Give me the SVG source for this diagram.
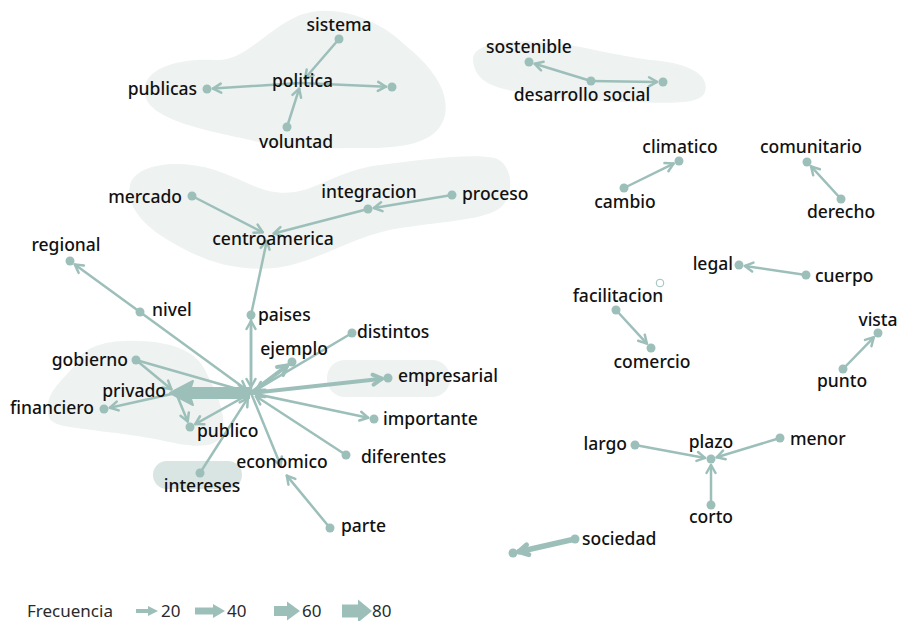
<svg xmlns="http://www.w3.org/2000/svg" width="901" height="621" viewBox="0 0 901 621">
<style>
.bg{fill:#ffffff}
.hull{fill:#eef2f0}
.hull2{fill:#d9e5e2}
.e{fill:none;stroke:#9dbfba;stroke-width:2.5;stroke-linecap:round;marker-end:url(#ah)}
.e4{fill:none;stroke:#9dbfba;stroke-width:4;stroke-linecap:round;marker-end:url(#ah4)}
.e5{fill:none;stroke:#9dbfba;stroke-width:5.5;stroke-linecap:round;marker-end:url(#ah5)}
.n{fill:#9dbfba}
.t{font-family:"Noto Sans","Liberation Sans",sans-serif;font-size:17.5px;font-weight:500;fill:#111111}
.m{text-anchor:middle}
.s{text-anchor:start}
.en{text-anchor:end}
.lg{font-family:"Noto Sans","Liberation Sans",sans-serif;font-size:17px;fill:#2a2a2a}
.la{fill:#9dbfba}
</style>
<defs>
<marker id="ah" markerUnits="userSpaceOnUse" markerWidth="14" markerHeight="14" refX="10" refY="6" orient="auto" overflow="visible">
<path d="M2,1.5 L10,6 L2,10.5" fill="none" stroke="#9dbfba" stroke-width="2.5" stroke-linecap="round" stroke-linejoin="round"/>
</marker>
<marker id="ah4" markerUnits="userSpaceOnUse" markerWidth="16" markerHeight="16" refX="11" refY="7" orient="auto" overflow="visible">
<path d="M2,2 L11,7 L2,12" fill="none" stroke="#9dbfba" stroke-width="4" stroke-linecap="round" stroke-linejoin="round"/>
</marker>
<marker id="ah5" markerUnits="userSpaceOnUse" markerWidth="16" markerHeight="16" refX="11" refY="7" orient="auto" overflow="visible">
<path d="M2,2 L11,7 L2,12" fill="none" stroke="#9dbfba" stroke-width="5" stroke-linecap="round" stroke-linejoin="round"/>
</marker>
</defs>
<rect class="bg" x="0" y="0" width="901" height="621"/>
<g id="hulls">
<path class="hull" d="M145,95 C140,70 175,58 215,60 C245,62 265,30 300,15 C335,2 380,20 405,45 C430,65 450,90 445,115 C440,140 410,148 370,148 C330,148 290,150 250,140 C205,130 150,120 145,95 Z"/>
<path class="hull" d="M473,60 C472,45 500,40 540,42 C580,44 610,55 650,60 C690,63 710,75 705,92 C700,105 670,103 630,102 C590,101 540,98 500,88 C480,82 474,72 473,60 Z"/>
<path class="hull" d="M130,185 C135,165 175,158 215,170 C250,182 265,196 295,192 C320,188 340,170 380,165 C420,160 470,153 495,158 C515,165 515,200 497,210 C480,220 440,222 400,228 C350,236 320,262 275,268 C230,272 195,258 160,235 C135,218 127,200 130,185 Z"/>
<path class="hull" d="M48,410 C45,390 70,375 78,360 C88,343 115,340 140,341 C170,342 195,350 205,370 C215,390 228,415 222,435 C215,450 190,447 160,440 C120,432 80,430 60,425 C50,422 48,418 48,410 Z"/>
<rect class="hull2" x="153" y="461" width="89" height="28" rx="14"/>
<rect class="hull" x="327" y="360" width="123" height="37" rx="18"/>
</g>
<g id="connectors">
<line class="e" x1="339" y1="39" x2="304.9" y2="78.5"/>
<line class="e" x1="287" y1="127" x2="299.2" y2="88.7"/>
<line class="e" x1="301" y1="83" x2="213" y2="88.6"/>
<line class="e" x1="301" y1="83" x2="386" y2="86.7"/>
<line class="e" x1="591" y1="81" x2="534.7" y2="63.8"/>
<line class="e" x1="591" y1="81" x2="657" y2="81.9"/>
<line class="e" x1="624" y1="188" x2="673.6" y2="163.6"/>
<line class="e" x1="841" y1="199" x2="811.1" y2="166.4"/>
<line class="e" x1="806" y1="275" x2="744.9" y2="265.9"/>
<line class="e" x1="616" y1="310" x2="646.9" y2="343.6"/>
<line class="e" x1="843" y1="369" x2="873.8" y2="337.3"/>
<line class="e" x1="635" y1="445" x2="705.1" y2="457.9"/>
<line class="e" x1="780" y1="438" x2="716.7" y2="457.3"/>
<line class="e" x1="711" y1="505" x2="711" y2="465"/>
<line class="e5" x1="575" y1="539" x2="518.9" y2="551.7"/>
<line class="e" x1="192" y1="196" x2="262.7" y2="232.3"/>
<line class="e" x1="452" y1="195" x2="373.9" y2="208"/>
<line class="e" x1="368" y1="209" x2="273.8" y2="233.5"/>
<line class="e" x1="251" y1="315" x2="266.8" y2="240.9"/>
<line class="e" x1="140" y1="312" x2="74.8" y2="264.5"/>
<line class="e" x1="251" y1="393" x2="251" y2="321"/>
<line class="e" x1="251" y1="315" x2="251" y2="387"/>
<line class="e" x1="140" y1="312" x2="246.2" y2="389.5"/>
<line class="e" x1="136" y1="360" x2="245.2" y2="391.3"/>
<line class="e" x1="136" y1="360" x2="171.4" y2="389.2"/>
<line class="e" x1="176" y1="393" x2="109.9" y2="407.7"/>
<line class="e" x1="176" y1="393" x2="187.7" y2="421.5"/>
<line class="e" x1="251" y1="393" x2="195.2" y2="424.1"/>
<line class="e" x1="200" y1="473" x2="247.8" y2="398.1"/>
<line class="e4" x1="251" y1="393" x2="287.2" y2="365.6"/>
<line class="e" x1="352" y1="333" x2="256.2" y2="389.9"/>
<line class="e4" x1="251" y1="393" x2="382" y2="378.7"/>
<line class="e" x1="251" y1="393" x2="368.1" y2="417.8"/>
<line class="e" x1="346" y1="455" x2="256" y2="396.3"/>
<line class="e" x1="251" y1="393" x2="280.7" y2="465.5"/>
<line class="e" x1="330" y1="528" x2="286.8" y2="475.6"/>
<line x1="250" y1="393" x2="190" y2="393" stroke="#9dbfba" stroke-width="12"/>
<polygon points="170,393 193,381 189,393 193,405" fill="#9dbfba" stroke="#9dbfba" stroke-width="2" stroke-linejoin="round"/>
</g>
<g id="nodes">
<g id="n-sistema"><circle class="n" cx="339" cy="39" r="4.5"/><text class="t m" x="339" y="31">sistema</text></g>
<g id="n-politica"><text class="t m" x="302.5" y="87">politica</text></g>
<g id="n-publicas"><circle class="n" cx="207" cy="89" r="4.5"/><text class="t en" x="197" y="95">publicas</text></g>
<g id="n-x"><circle class="n" cx="392" cy="87" r="4.5"/></g>
<g id="n-voluntad"><circle class="n" cx="287" cy="127" r="4.5"/><text class="t m" x="296" y="148">voluntad</text></g>
<g id="n-sostenible"><circle class="n" cx="529" cy="62" r="4.5"/><text class="t m" x="529" y="53">sostenible</text></g>
<g id="n-desarrollo-social"><circle class="n" cx="591" cy="81" r="4.5"/><text class="t m" x="582" y="101">desarrollo social</text></g>
<g id="n-y"><circle class="n" cx="663" cy="82" r="4.5"/></g>
<g id="n-climatico"><circle class="n" cx="679" cy="161" r="4.5"/><text class="t m" x="680" y="153">climatico</text></g>
<g id="n-cambio"><circle class="n" cx="624" cy="188" r="4.5"/><text class="t m" x="625" y="208">cambio</text></g>
<g id="n-comunitario"><circle class="n" cx="807" cy="162" r="4.5"/><text class="t m" x="811" y="153">comunitario</text></g>
<g id="n-derecho"><circle class="n" cx="841" cy="199" r="4.5"/><text class="t m" x="841" y="218">derecho</text></g>
<g id="n-legal"><circle class="n" cx="739" cy="265" r="4.5"/><text class="t en" x="733" y="270">legal</text></g>
<g id="n-cuerpo"><circle class="n" cx="806" cy="275" r="4.5"/><text class="t s" x="815" y="282">cuerpo</text></g>
<g id="n-empty"><circle cx="660" cy="283" r="3.8" fill="#ffffff" stroke="#9dbfba" stroke-width="1"/></g>
<g id="n-facilitacion"><circle class="n" cx="616" cy="310" r="4.5"/><text class="t m" x="618" y="302">facilitacion</text></g>
<g id="n-comercio"><circle class="n" cx="651" cy="348" r="4.5"/><text class="t m" x="652" y="368">comercio</text></g>
<g id="n-vista"><circle class="n" cx="878" cy="333" r="4.5"/><text class="t m" x="878" y="326">vista</text></g>
<g id="n-punto"><circle class="n" cx="843" cy="369" r="4.5"/><text class="t m" x="842" y="387">punto</text></g>
<g id="n-largo"><circle class="n" cx="635" cy="445" r="4.5"/><text class="t en" x="627" y="450">largo</text></g>
<g id="n-plazo"><circle class="n" cx="711" cy="459" r="4.5"/><text class="t m" x="711" y="448">plazo</text></g>
<g id="n-menor"><circle class="n" cx="780" cy="438" r="4.5"/><text class="t s" x="790" y="445">menor</text></g>
<g id="n-corto"><circle class="n" cx="711" cy="505" r="4.5"/><text class="t m" x="711" y="523">corto</text></g>
<g id="n-sociedad"><circle class="n" cx="575" cy="539" r="4.5"/><text class="t s" x="582" y="545">sociedad</text></g>
<g id="n-z"><circle class="n" cx="513" cy="553" r="4.5"/></g>
<g id="n-mercado"><circle class="n" cx="192" cy="196" r="4.5"/><text class="t en" x="182" y="203">mercado</text></g>
<g id="n-integracion"><circle class="n" cx="368" cy="209" r="4.5"/><text class="t m" x="369" y="198">integracion</text></g>
<g id="n-proceso"><circle class="n" cx="452" cy="195" r="4.5"/><text class="t s" x="462" y="200">proceso</text></g>
<g id="n-centroamerica"><text class="t m" x="273" y="245">centroamerica</text></g>
<g id="n-regional"><circle class="n" cx="70" cy="261" r="4.5"/><text class="t m" x="66" y="251">regional</text></g>
<g id="n-nivel"><circle class="n" cx="140" cy="312" r="4.5"/><text class="t s" x="152" y="316">nivel</text></g>
<g id="n-paises"><circle class="n" cx="251" cy="315" r="4.5"/><text class="t s" x="258" y="321">paises</text></g>
<g id="n-distintos"><circle class="n" cx="352" cy="333" r="4.5"/><text class="t s" x="357" y="338">distintos</text></g>
<g id="n-ejemplo"><circle class="n" cx="292" cy="362" r="4.5"/><text class="t m" x="294" y="355">ejemplo</text></g>
<g id="n-gobierno"><circle class="n" cx="136" cy="360" r="4.5"/><text class="t en" x="128" y="366">gobierno</text></g>
<g id="n-privado"><text class="t en" x="166" y="397">privado</text></g>
<g id="n-empresarial"><circle class="n" cx="388" cy="378" r="4.5"/><text class="t s" x="398" y="382">empresarial</text></g>
<g id="n-financiero"><circle class="n" cx="104" cy="409" r="4.5"/><text class="t en" x="94" y="414">financiero</text></g>
<g id="n-importante"><circle class="n" cx="374" cy="419" r="4.5"/><text class="t s" x="383" y="425">importante</text></g>
<g id="n-publico"><circle class="n" cx="190" cy="427" r="4.5"/><text class="t s" x="197" y="437">publico</text></g>
<g id="n-diferentes"><circle class="n" cx="346" cy="455" r="4.5"/><text class="t s" x="361" y="463">diferentes</text></g>
<g id="n-economico"><text class="t m" x="282" y="468">economico</text></g>
<g id="n-intereses"><circle class="n" cx="200" cy="473" r="4.5"/><text class="t m" x="202" y="492">intereses</text></g>
<g id="n-parte"><circle class="n" cx="330" cy="528" r="4.5"/><text class="t s" x="341" y="532">parte</text></g>
</g>
<g id="legend">
<text class="lg" x="27" y="617">Frecuencia</text>
<rect class="la" x="136" y="609" width="13" height="4"/>
<polygon class="la" points="148,606 158,611 148,616"/>
<text class="lg" x="161" y="617">20</text>
<rect class="la" x="195" y="607.5" width="19" height="7"/>
<polygon class="la" points="213,604 225,611 213,618"/>
<text class="lg" x="227" y="617">40</text>
<rect class="la" x="274" y="606" width="14" height="10"/>
<polygon class="la" points="287,601.5 300,611 287,620.5"/>
<text class="lg" x="302" y="617">60</text>
<rect class="la" x="342" y="604.5" width="17" height="13"/>
<polygon class="la" points="358,599.5 372,611 358,622.5"/>
<text class="lg" x="372" y="617">80</text>
</g>
</svg>
